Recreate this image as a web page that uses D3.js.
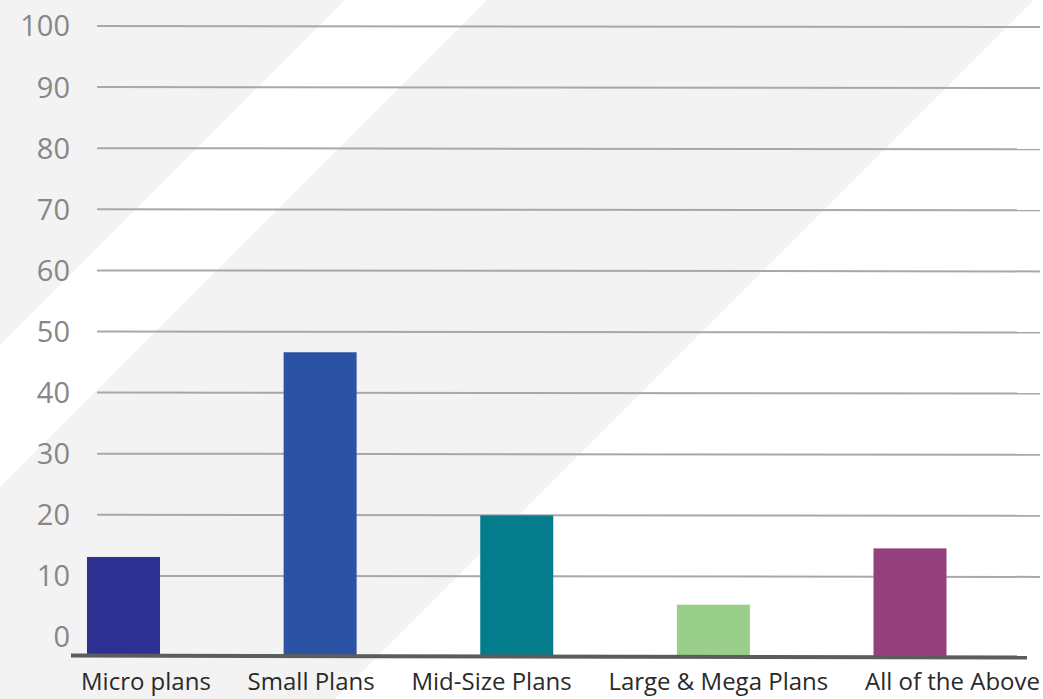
<!DOCTYPE html>
<html>
<head>
<meta charset="utf-8">
<script src="https://cdn.jsdelivr.net/npm/d3@7"></script>
<style>
  body { margin: 0; background: #fff; }
  svg { display: block; }
</style>
</head>
<body>
<div id="chart"></div>
<script>
const categories = ["Micro plans", "Small Plans", "Mid-Size Plans", "Large & Mega Plans", "All of the Above"];
const values = [13.1, 46.6, 19.9, 5.3, 14.5];
const barColors = ["#2e3192", "#2b52a4", "#047c8c", "#99cf8a", "#95407d"];
const yTicks = [0, 10, 20, 30, 40, 50, 60, 70, 80, 90, 100];

const W = 1043, H = 699;
const axisY = 656;

const svg = d3.select("#chart")
  .append("svg")
  .attr("width", W)
  .attr("height", H);

// background diagonal stripes
svg.append("rect").attr("width", W).attr("height", H).attr("fill", "#f3f3f3");
const stripes = [[345, 487], [1034, 2400]];
svg.selectAll(".stripe")
  .data(stripes)
  .join("polygon")
  .attr("class", "stripe")
  .attr("fill", "#ffffff")
  .attr("points", d => [[d[0], 0], [d[1], 0], [d[1] - H, H], [d[0] - H, H]].join(" "));

const yScale = d3.scaleLinear()
  .domain([0, 100])
  .range([637, 26]);

const xScale = d3.scalePoint()
  .domain(categories)
  .range([123.5, 910]);

const barW = 73;

// gridlines (no line at zero)
svg.selectAll(".grid")
  .data(yTicks.filter(t => t > 0))
  .join("line")
  .attr("class", "grid")
  .attr("x1", 97)
  .attr("x2", 1040)
  .attr("y1", d => yScale(d))
  .attr("y2", d => yScale(d) + 1)
  .attr("stroke", "#a8a8aa")
  .attr("stroke-width", 2);

// y labels
svg.selectAll(".ylab")
  .data(yTicks)
  .join("text")
  .attr("class", "ylab")
  .attr("x", 70)
  .attr("y", d => yScale(d))
  .attr("dy", "0.36em")
  .attr("text-anchor", "end")
  .attr("font-family", "'Open Sans', sans-serif")
  .attr("font-size", 29)
  .attr("fill", "#878787")
  .text(d => d);

// bars
svg.selectAll(".bar")
  .data(values)
  .join("rect")
  .attr("class", "bar")
  .attr("x", (d, i) => xScale(categories[i]) - barW / 2)
  .attr("y", d => yScale(d))
  .attr("width", barW)
  .attr("height", d => axisY - yScale(d))
  .attr("fill", (d, i) => barColors[i]);

// baseline
svg.append("line")
  .attr("x1", 71).attr("x2", 1027)
  .attr("y1", axisY - 0.5).attr("y2", axisY + 1.5)
  .attr("stroke", "#5c5c5e")
  .attr("stroke-width", 4);

// category labels, spread evenly between the chart edges
const labels = svg.selectAll(".xlab")
  .data(categories)
  .join("text")
  .attr("class", "xlab")
  .attr("y", 690)
  .attr("font-family", "'Open Sans', sans-serif")
  .attr("font-size", 24)
  .attr("fill", "#2a2a2a")
  .text(d => d);

const widths = [];
labels.each(function() { widths.push(this.getComputedTextLength()); });
const gap = (1040 - 81 - d3.sum(widths)) / (widths.length - 1);
let cur = 81;
labels.each(function(d, i) {
  d3.select(this).attr("x", cur);
  cur += widths[i] + gap;
});
</script>
</body>
</html>
